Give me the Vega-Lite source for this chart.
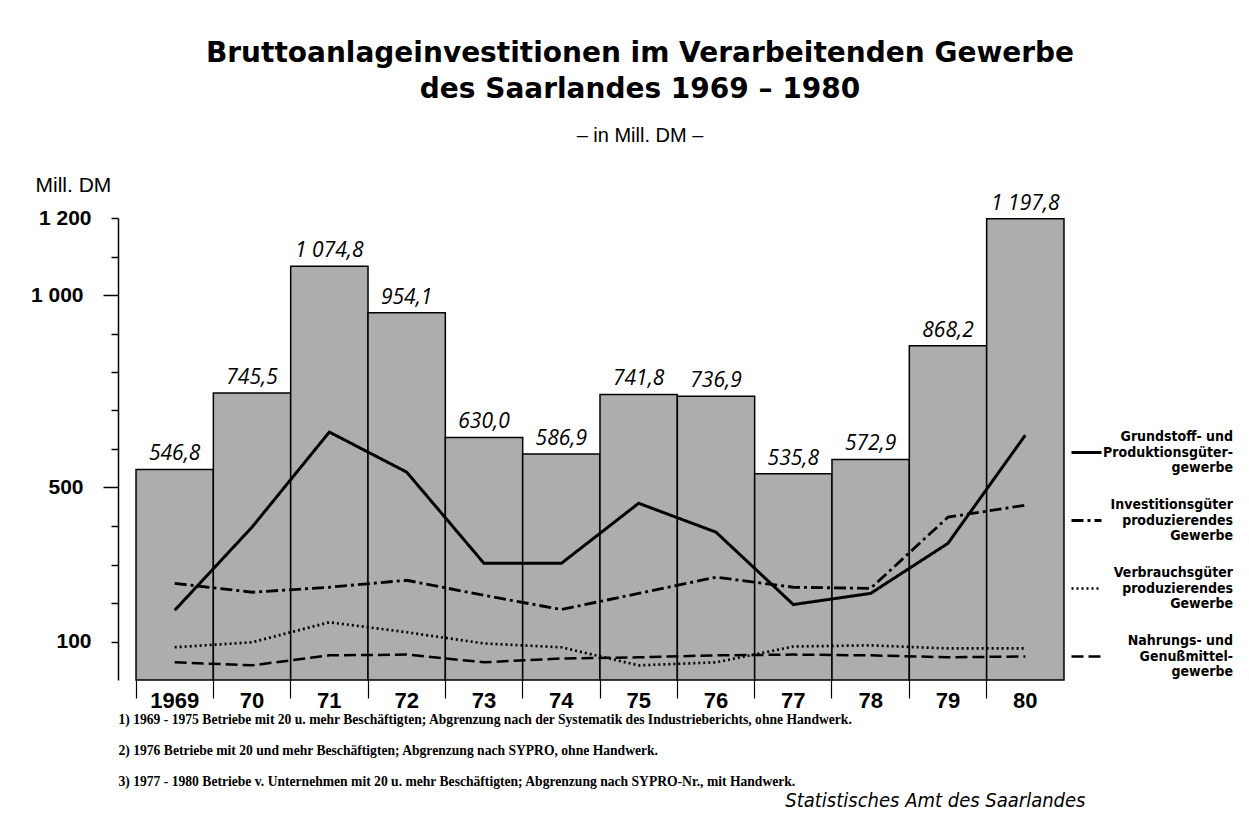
{
  "$schema": "https://vega.github.io/schema/vega-lite/v6.json",
  "autosize": {"type": "none"},
  "width": 964,
  "height": 462,
  "padding": {"left": 118, "top": 218, "right": 167, "bottom": 140},
  "background": "white",
  "config": {
    "view": {"stroke": null},
    "locale": {"number": {"decimal": ",", "thousands": " ", "grouping": [3], "currency": ["", " DM"]}},
    "font": "Liberation Sans"
  },
  "title": {
    "text": ["Bruttoanlageinvestitionen im Verarbeitenden Gewerbe", "des Saarlandes 1969 – 1980"],
    "subtitle": "– in Mill. DM –",
    "anchor": "middle",
    "dx": 40,
    "offset": 28,
    "font": "DejaVu Sans",
    "fontSize": 28,
    "fontWeight": "bold",
    "lineHeight": 36,
    "color": "black",
    "subtitleFont": "Liberation Sans",
    "subtitleFontSize": 20,
    "subtitleColor": "black",
    "subtitlePadding": 22
  },
  "datasets": {
    "totals": [
      {"year": 1969, "total": 546.8},
      {"year": 1970, "total": 745.5},
      {"year": 1971, "total": 1074.8},
      {"year": 1972, "total": 954.1},
      {"year": 1973, "total": 630.0},
      {"year": 1974, "total": 586.9},
      {"year": 1975, "total": 741.8},
      {"year": 1976, "total": 736.9},
      {"year": 1977, "total": 535.8},
      {"year": 1978, "total": 572.9},
      {"year": 1979, "total": 868.2},
      {"year": 1980, "total": 1197.8}
    ],
    "series": [
      {"year": 1969, "sector": "Grundstoff", "value": 181},
      {"year": 1970, "sector": "Grundstoff", "value": 397},
      {"year": 1971, "sector": "Grundstoff", "value": 644},
      {"year": 1972, "sector": "Grundstoff", "value": 540},
      {"year": 1973, "sector": "Grundstoff", "value": 303},
      {"year": 1974, "sector": "Grundstoff", "value": 303},
      {"year": 1975, "sector": "Grundstoff", "value": 459},
      {"year": 1976, "sector": "Grundstoff", "value": 384},
      {"year": 1977, "sector": "Grundstoff", "value": 196},
      {"year": 1978, "sector": "Grundstoff", "value": 225},
      {"year": 1979, "sector": "Grundstoff", "value": 355},
      {"year": 1980, "sector": "Grundstoff", "value": 636},
      {"year": 1969, "sector": "Investitionsgüter", "value": 251},
      {"year": 1970, "sector": "Investitionsgüter", "value": 228},
      {"year": 1971, "sector": "Investitionsgüter", "value": 241},
      {"year": 1972, "sector": "Investitionsgüter", "value": 259},
      {"year": 1973, "sector": "Investitionsgüter", "value": 220},
      {"year": 1974, "sector": "Investitionsgüter", "value": 183},
      {"year": 1975, "sector": "Investitionsgüter", "value": 225},
      {"year": 1976, "sector": "Investitionsgüter", "value": 267},
      {"year": 1977, "sector": "Investitionsgüter", "value": 241},
      {"year": 1978, "sector": "Investitionsgüter", "value": 238},
      {"year": 1979, "sector": "Investitionsgüter", "value": 423},
      {"year": 1980, "sector": "Investitionsgüter", "value": 454},
      {"year": 1969, "sector": "Verbrauchsgüter", "value": 85},
      {"year": 1970, "sector": "Verbrauchsgüter", "value": 98},
      {"year": 1971, "sector": "Verbrauchsgüter", "value": 150},
      {"year": 1972, "sector": "Verbrauchsgüter", "value": 124},
      {"year": 1973, "sector": "Verbrauchsgüter", "value": 95},
      {"year": 1974, "sector": "Verbrauchsgüter", "value": 85},
      {"year": 1975, "sector": "Verbrauchsgüter", "value": 38},
      {"year": 1976, "sector": "Verbrauchsgüter", "value": 46},
      {"year": 1977, "sector": "Verbrauchsgüter", "value": 87},
      {"year": 1978, "sector": "Verbrauchsgüter", "value": 90},
      {"year": 1979, "sector": "Verbrauchsgüter", "value": 82},
      {"year": 1980, "sector": "Verbrauchsgüter", "value": 82},
      {"year": 1969, "sector": "Nahrungs", "value": 46},
      {"year": 1970, "sector": "Nahrungs", "value": 38},
      {"year": 1971, "sector": "Nahrungs", "value": 64},
      {"year": 1972, "sector": "Nahrungs", "value": 66},
      {"year": 1973, "sector": "Nahrungs", "value": 46},
      {"year": 1974, "sector": "Nahrungs", "value": 56},
      {"year": 1975, "sector": "Nahrungs", "value": 59},
      {"year": 1976, "sector": "Nahrungs", "value": 64},
      {"year": 1977, "sector": "Nahrungs", "value": 66},
      {"year": 1978, "sector": "Nahrungs", "value": 64},
      {"year": 1979, "sector": "Nahrungs", "value": 59},
      {"year": 1980, "sector": "Nahrungs", "value": 61}
    ]
  },
  "layer": [
    {
      "data": {"name": "totals"},
      "mark": {"type": "bar", "fill": "#adadad", "stroke": "black", "strokeWidth": 1.5},
      "encoding": {
        "x": {
          "field": "year", "type": "ordinal",
          "scale": {"paddingInner": 0, "paddingOuter": 0.233},
          "axis": {
            "title": [
              "1) 1969 - 1975 Betriebe mit 20 u. mehr Beschäftigten; Abgrenzung nach der Systematik des Industrieberichts, ohne Handwerk.",
              "2) 1976 Betriebe mit 20 und mehr Beschäftigten; Abgrenzung nach SYPRO, ohne Handwerk.",
              "3) 1977 - 1980 Betriebe v. Unternehmen mit 20 u. mehr Beschäftigten; Abgrenzung nach SYPRO-Nr., mit Handwerk."
            ],
            "titleX": 0, "titleY": 32, "titleAlign": "left", "titleBaseline": "top",
            "titleFont": "Liberation Serif", "titleFontSize": 13.6, "titleFontWeight": "bold",
            "titleLineHeight": 31, "titleColor": "black",
            "domain": false,
            "bandPosition": 0,
            "tickSize": 18, "tickWidth": 1.2, "tickColor": "black",
            "labelAngle": 0, "labelPadding": -8,
            "labelFont": "Liberation Sans", "labelFontSize": 22, "labelFontWeight": "bold", "labelColor": "black",
            "labelExpr": "datum.value == 1969 ? '1969' : substring(toString(datum.value), 2, 4)"
          }
        },
        "y": {
          "field": "total", "type": "quantitative",
          "scale": {"domain": [0, 1200], "nice": false},
          "axis": {
            "values": [100, 200, 300, 400, 500, 600, 700, 800, 900, 1000, 1100, 1200],
            "labelExpr": "indexof([100, 500, 1000, 1200], datum.value) >= 0 ? replace(format(datum.value, ','), ',', ' ') : ''",
            "tickSize": {"condition": {"test": "indexof([500, 1000], datum.value) >= 0", "value": 15}, "value": 7},
            "tickWidth": 1.5, "tickColor": "black",
            "domainColor": "black", "domainWidth": 1.5,
            "grid": false,
            "labelPadding": 20,
            "labelFont": "Liberation Sans", "labelFontSize": 21, "labelFontWeight": "bold", "labelColor": "black",
            "title": "Mill. DM",
            "titleAngle": 0, "titleX": -83, "titleY": -33, "titleAlign": "left", "titleBaseline": "middle",
            "titleFont": "Liberation Sans", "titleFontSize": 21, "titleFontWeight": "normal", "titleColor": "black"
          }
        }
      }
    },
    {
      "data": {"name": "totals"},
      "mark": {"type": "text", "dy": -15, "baseline": "middle", "align": "center", "font": "Open Sans", "fontStyle": "italic", "fontSize": 21, "color": "black"},
      "encoding": {
        "x": {"field": "year", "type": "ordinal"},
        "y": {"field": "total", "type": "quantitative", "axis": null},
        "text": {"field": "total", "type": "quantitative", "format": ",.1f"}
      }
    },
    {
      "data": {"name": "series"},
      "mark": {"type": "line", "color": "black"},
      "encoding": {
        "x": {"field": "year", "type": "ordinal"},
        "y": {
          "field": "value", "type": "quantitative",
          "axis": {
            "orient": "right", "domain": false, "ticks": false, "labels": false, "grid": false,
            "title": "Statistisches Amt des Saarlandes",
            "titleAngle": 0, "titleX": 3, "titleY": 582, "titleAlign": "right", "titleBaseline": "middle",
            "titleFont": "DejaVu Sans Condensed", "titleFontSize": 20, "titleFontStyle": "italic", "titleFontWeight": "normal", "titleColor": "black"
          }
        },
        "strokeDash": {
          "field": "sector", "type": "nominal",
          "scale": {
            "domain": ["Grundstoff", "Investitionsgüter", "Verbrauchsgüter", "Nahrungs"],
            "range": [[1, 0], [12, 4, 3, 4], [2, 3], [12, 5]]
          },
          "legend": {
            "orient": "none", "legendX": 952, "legendY": 218,
            "title": null,
            "symbolType": "stroke", "symbolSize": 900, "symbolStrokeWidth": 3, "symbolStrokeColor": "black",
            "labelAlign": "right", "labelOffset": 130, "labelBaseline": "middle", "labelLimit": 300,
            "labelFont": "DejaVu Sans Condensed", "labelFontSize": 14, "labelFontWeight": "bold", "labelColor": "black",
            "rowPadding": 23,
            "labelExpr": "datum.value == 'Grundstoff' ? ['Grundstoff- und', 'Produktionsgüter-', 'gewerbe'] : datum.value == 'Investitionsgüter' ? ['Investitionsgüter', 'produzierendes', 'Gewerbe'] : datum.value == 'Verbrauchsgüter' ? ['Verbrauchsgüter', 'produzierendes', 'Gewerbe'] : ['Nahrungs- und', 'Genußmittel-', 'gewerbe']",
            "encode": {"labels": {"update": {"dy": {"value": -15.5}, "lineHeight": {"value": 15.5}}}}
          }
        },
        "strokeWidth": {
          "field": "sector", "type": "nominal",
          "scale": {"domain": ["Grundstoff", "Investitionsgüter", "Verbrauchsgüter", "Nahrungs"], "range": [3, 2.5, 2.5, 2.5]},
          "legend": null
        }
      }
    }
  ],
  "resolve": {"axis": {"y": "independent"}}
}
